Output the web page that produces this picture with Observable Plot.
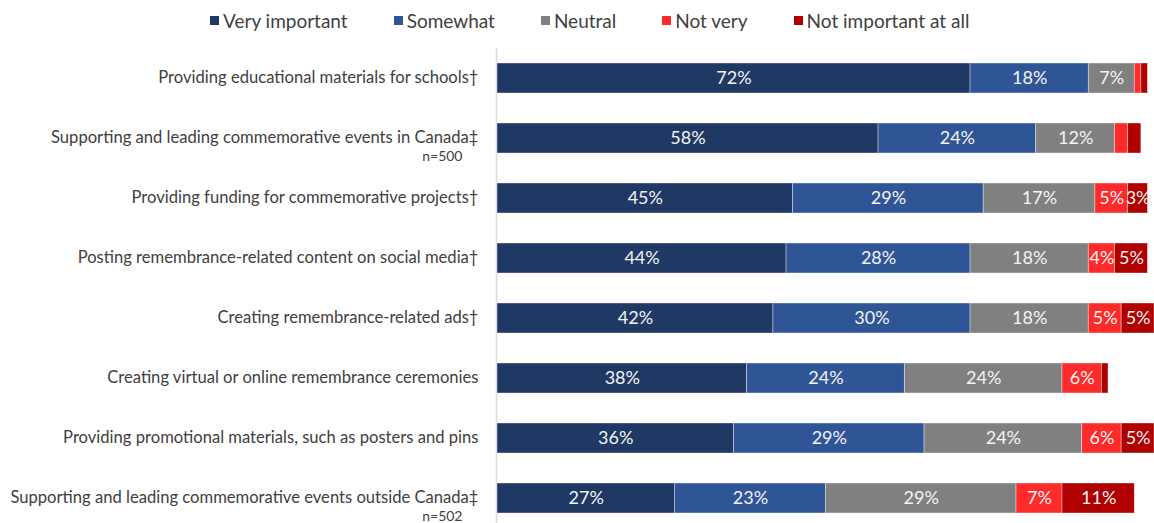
<!DOCTYPE html>
<html>
<head>
<meta charset="utf-8">
<script src="https://cdn.jsdelivr.net/npm/d3@7"></script>
<script src="https://cdn.jsdelivr.net/npm/@observablehq/plot@0.6"></script>
<style>
  html, body { margin: 0; padding: 0; background: #fff; overflow: hidden; }
  body { width: 1154px; height: 523px; font-family: Lato, "Open Sans", sans-serif; }
  #legend { position: relative; height: 40px; display: flex; align-items: center; padding-left: 210px; box-sizing: border-box; }
  .item { display: flex; align-items: center; margin-right: 46px; font-size: 19px; color: #404040; }
  .sw { width: 9px; height: 9px; margin-right: 4px; }
  #chart svg { display: block; }
</style>
</head>
<body>
<div id="legend"></div>
<div id="chart"></div>
<script>
const categories = [
  "Providing educational materials for schools†",
  "Supporting and leading commemorative events in Canada‡",
  "Providing funding for commemorative projects†",
  "Posting remembrance-related content on social media†",
  "Creating remembrance-related ads†",
  "Creating virtual or online remembrance ceremonies",
  "Providing promotional materials, such as posters and pins",
  "Supporting and leading commemorative events outside Canada‡"
];
const notes = ["", "n=500", "", "", "", "", "", "n=502"];
const responses = ["Very important", "Somewhat", "Neutral", "Not very", "Not important at all"];
const colors = ["#203864", "#2F5597", "#808080", "#FF2A2A", "#B00000"];
const veryImportant = [72, 58, 45, 44, 42, 38, 36, 27];
const somewhat = [18, 24, 29, 28, 30, 24, 29, 23];
const neutral = [7, 12, 17, 18, 18, 24, 24, 29];
const notVery = [1, 2, 5, 4, 5, 6, 6, 7];
const notAtAll = [1, 2, 3, 5, 5, 1, 5, 11];

const series = [veryImportant, somewhat, neutral, notVery, notAtAll];
const data = [];
responses.forEach((r, i) => {
  categories.forEach((c, j) => {
    data.push({cat: c, resp: r, value: series[i][j]});
  });
});
const catData = categories.map((c, j) => ({cat: c, note: notes[j]}));

// legend
const legend = document.getElementById("legend");
responses.forEach((r, i) => {
  const it = document.createElement("div");
  it.className = "item";
  const sw = document.createElement("div");
  sw.className = "sw";
  sw.style.background = colors[i];
  const t = document.createElement("span");
  t.textContent = r;
  it.appendChild(sw); it.appendChild(t);
  legend.appendChild(it);
});

const stackOpts = {x: "value", y: "cat", z: "resp", order: responses};

const chart = Plot.plot({
  width: 1154,
  height: 488,
  marginTop: 8,
  marginBottom: 0,
  marginLeft: 497,
  marginRight: 0,
  style: {fontFamily: "Lato, 'Open Sans', sans-serif", background: "#fff"},
  x: {domain: [0, 100], axis: null},
  y: {domain: categories, paddingInner: 0.5, paddingOuter: 0.25, axis: null},
  color: {domain: responses, range: colors},
  marks: [
    Plot.ruleX([0], {stroke: "#d9d9d9", strokeWidth: 1.5, dx: -1}),
    Plot.barX(data, Plot.stackX({...stackOpts, fill: "resp", stroke: "#ffffff", strokeOpacity: 0.5, strokeWidth: 0.75})),
    Plot.text(data, Plot.stackX({
      ...stackOpts,
      text: d => d.value >= 3 ? d.value + "%" : null,
      fill: "#f4f4f4",
      fontSize: 18
    })),
    Plot.text(catData, {
      x: 0, y: "cat", text: "cat", textAnchor: "end", dx: -19, dy: -1,
      fill: "#404040", fontSize: 16.6
    }),
    Plot.text(catData, {
      x: 0, y: "cat", text: "note", textAnchor: "end", dx: -35, dy: 18,
      fill: "#404040", fontSize: 14
    })
  ]
});
document.getElementById("chart").appendChild(chart);
</script>
</body>
</html>
